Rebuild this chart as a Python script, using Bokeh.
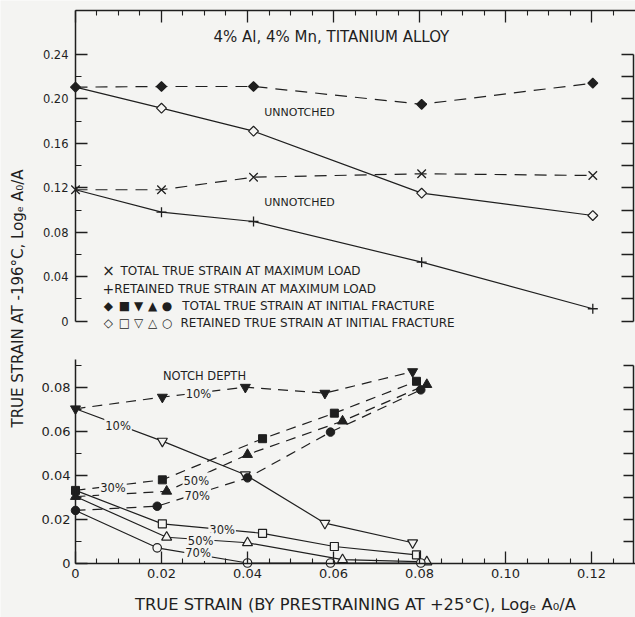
import math
from bokeh.plotting import figure
from bokeh.models import Range1d, LinearAxis, FixedTicker, CustomJSTickFormatter, Label
from bokeh.embed import file_html
from bokeh.resources import INLINE

# ---------------- data ----------------
# upper panel: unnotched specimens
x_top = [0.0, 0.0200, 0.0414, 0.0805, 0.1203]
total_fracture_unnotched = [0.2106, 0.2112, 0.2112, 0.1952, 0.2142]
retained_fracture_unnotched = [0.2106, 0.1917, 0.1710, 0.1152, 0.0951]
total_max_load = [0.1183, 0.1183, 0.1296, 0.1327, 0.1311]
retained_max_load = [0.1183, 0.0981, 0.0897, 0.0531, 0.0112]

# lower panel: notched specimens, by notch depth
x_10 = [0.0, 0.0202, 0.0395, 0.0580, 0.0784]
total_10 = [0.0701, 0.0754, 0.0799, 0.0772, 0.0870]
retained_10 = [0.0701, 0.0554, 0.0401, 0.0181, 0.0092]
x_30 = [0.0, 0.0202, 0.0435, 0.0602, 0.0793]
total_30 = [0.0330, 0.0378, 0.0565, 0.0681, 0.0826]
retained_30 = [0.0330, 0.0178, 0.0135, 0.0075, 0.0037]
x_50 = [0.0, 0.0212, 0.0400, 0.0621, 0.0817]
total_50 = [0.0302, 0.0326, 0.0493, 0.0645, 0.0811]
retained_50 = [0.0302, 0.0117, 0.0092, 0.0015, 0.0005]
x_70 = [0.0, 0.0190, 0.0400, 0.0593, 0.0803]
total_70 = [0.0239, 0.0258, 0.0387, 0.0595, 0.0787]
retained_70 = [0.0239, 0.0069, 0.0, 0.0, 0.0]

x_ticks = [0, 0.02, 0.04, 0.06, 0.08, 0.10, 0.12]
top_y_ticks = [0, 0.04, 0.08, 0.12, 0.16, 0.20, 0.24]
low_y_ticks = [0, 0.02, 0.04, 0.06, 0.08]

title_text = "4% Al, 4% Mn, TITANIUM ALLOY"
x_title = "TRUE STRAIN (BY PRESTRAINING AT +25\u00b0C), Log\u2091 A\u2080/A"
y_title = "TRUE STRAIN AT -196\u00b0C, Log\u2091 A\u2080/A"
legend_lines = [
    ("\u00d7", "TOTAL TRUE STRAIN AT MAXIMUM LOAD"),
    ("+", "RETAINED TRUE STRAIN AT MAXIMUM LOAD"),
    ("\u25c6\u25a0\u25bc\u25b2\u25cf", "TOTAL TRUE STRAIN AT INITIAL FRACTURE"),
    ("\u25c7\u25a1\u25bd\u25b3\u25cb", "RETAINED TRUE STRAIN AT INITIAL FRACTURE"),
]

# ---------------- style ----------------
bg = "#f4f4f2"
ink = "#1f1f1f"
font = "DejaVu Sans"

p = figure(width=635, height=617, output_backend="svg", toolbar_location=None,
           x_range=Range1d(-0.01744, 0.13023),
           y_range=Range1d(-0.26664, 0.28859),
           x_axis_type=None, y_axis_type=None, min_border=0)
p.extra_y_ranges = {"low": Range1d(-0.02477, 0.25568)}
p.outline_line_color = None
p.background_fill_color = bg
p.border_fill_color = bg

num_fmt = CustomJSTickFormatter(code="return tick == 0 ? '0' : tick.toFixed(2);")
blank_fmt = CustomJSTickFormatter(code="return '';")

x_minor = [round(i * 0.005, 3) for i in range(1, 26) if i % 4]


def style_axis(ax, major_in, minor_in, label_size="12px", standoff=6):
    ax.axis_line_color = ink
    ax.axis_line_width = 1.5
    ax.major_tick_line_color = ink
    ax.major_tick_line_width = 1.3
    ax.minor_tick_line_color = ink
    ax.minor_tick_line_width = 1.1
    ax.major_tick_in = major_in
    ax.major_tick_out = 0
    ax.minor_tick_in = minor_in
    ax.minor_tick_out = 0
    ax.major_label_text_font = font
    ax.major_label_text_font_size = label_size
    ax.major_label_text_color = ink
    ax.major_label_standoff = standoff


# upper panel axes
ax = LinearAxis(fixed_location=0, bounds=(0, 0.28), formatter=num_fmt,
                ticker=FixedTicker(ticks=top_y_ticks, minor_ticks=[0.02, 0.06, 0.10, 0.14, 0.18, 0.22]))
style_axis(ax, 12, 6, "11.5px", 7)
p.add_layout(ax, "left")

ax = LinearAxis(fixed_location=0.28, bounds=(0, 0.1302), formatter=blank_fmt,
                ticker=FixedTicker(ticks=x_ticks, minor_ticks=x_minor))
style_axis(ax, 12, 5)
p.add_layout(ax, "above")

ax = LinearAxis(fixed_location=0.1298, bounds=(0, 0.24), formatter=blank_fmt,
                ticker=FixedTicker(ticks=[0, 0.02, 0.04, 0.06, 0.08, 0.10, 0.12, 0.14,
                                          0.16, 0.18, 0.20, 0.22, 0.24]))
style_axis(ax, 12, 0)
p.add_layout(ax, "right")

# lower panel axes
ax = LinearAxis(y_range_name="low", fixed_location=0, bounds=(0, 0.0926), formatter=num_fmt,
                ticker=FixedTicker(ticks=low_y_ticks, minor_ticks=[0.01, 0.03, 0.05, 0.07, 0.09]))
style_axis(ax, 12, 6, "13px", 5)
p.add_layout(ax, "left")

ax = LinearAxis(y_range_name="low", fixed_location=0, bounds=(0, 0.1302), formatter=num_fmt,
                ticker=FixedTicker(ticks=x_ticks, minor_ticks=x_minor),
                axis_label=x_title)
style_axis(ax, 12, 5, "13px", 6)
ax.axis_label_text_font = font
ax.axis_label_text_font_size = "16.3px"
ax.axis_label_text_font_style = "normal"
ax.axis_label_text_color = ink
ax.axis_label_standoff = 13
p.add_layout(ax, "below")

ax = LinearAxis(y_range_name="low", fixed_location=0.1298, bounds=(0, 0.09), formatter=blank_fmt,
                ticker=FixedTicker(ticks=[0.01, 0.02, 0.03, 0.04, 0.05, 0.06, 0.07, 0.08, 0.09]))
style_axis(ax, 10, 0)
p.add_layout(ax, "right")

# ---------------- lines ----------------
LW = 1.2
p.line(x_top, total_fracture_unnotched, line_color=ink, line_width=LW, line_dash="12 8")
p.line(x_top, retained_fracture_unnotched, line_color=ink, line_width=LW)
p.line(x_top, total_max_load, line_color=ink, line_width=LW, line_dash="12 8")
p.line(x_top, retained_max_load, line_color=ink, line_width=LW)

low_series = [
    (x_10, total_10, retained_10, "inverted_triangle", 10),
    (x_30, total_30, retained_30, "square", 8),
    (x_50, total_50, retained_50, "triangle", 10),
    (x_70, total_70, retained_70, "circle", 8.5),
]
for xs, tot, ret, mk, sz in low_series:
    p.line(xs, tot, line_color=ink, line_width=LW, line_dash="10 7", y_range_name="low")
    p.line(xs, ret, line_color=ink, line_width=LW, y_range_name="low")

# ---------------- markers ----------------
# retained values coincide with total values at zero prestrain: only the total marker is shown there
p.scatter(x_top[1:], retained_fracture_unnotched[1:], marker="square", angle=math.pi / 4, size=7,
          fill_color=bg, line_color=ink, line_width=1.2)
p.scatter(x_top, total_fracture_unnotched, marker="square", angle=math.pi / 4, size=7,
          fill_color=ink, line_color=ink, line_width=1.2)
p.scatter(x_top, total_max_load, marker="x", size=12, line_color=ink, line_width=1.3)
p.scatter(x_top[1:], retained_max_load[1:], marker="cross", size=10, line_color=ink, line_width=1.3)

for xs, tot, ret, mk, sz in low_series:
    p.scatter(xs[1:], ret[1:], marker=mk, size=sz, fill_color=bg, line_color=ink,
              line_width=1.2, y_range_name="low")
    p.scatter(xs, tot, marker=mk, size=sz, fill_color=ink, line_color=ink,
              line_width=1.0, y_range_name="low")


# ---------------- texts ----------------
def label(x, y, text, size, rng="default", align="center", gap=False, angle=0.0):
    kw = dict(x=x, y=y, text=text, text_font=font, text_font_size=size, text_color=ink,
              text_align=align, text_baseline="middle", angle=angle, y_range_name=rng)
    if gap:
        kw.update(background_fill_color=bg, padding=1)
    p.add_layout(Label(**kw))


label(0.0595, 0.2553, title_text, "15px")
label(0.0521, 0.1874, "UNNOTCHED", "11px")
label(0.0521, 0.1071, "UNNOTCHED", "11px")

legend_y = [0.0450, 0.0292, 0.0141, -0.0018]
sym_x = [0.00767, 0.01140, 0.01465, 0.01791, 0.02128]
sym_size = ["15px", "14px", "12px", "12px"]
text_x = [0.01047, 0.00900, 0.02481, 0.02442]
for (syms, txt), ly, tx, ss in zip(legend_lines, legend_y, text_x, sym_size):
    for s, sx in zip(syms, sym_x):
        label(sx, ly, s, ss)
    label(tx, ly, txt, "12px", align="left")

label(0.0300, 0.0848, "NOTCH DEPTH", "11.5px", "low")
label(0.0286, 0.0769, "10%", "11.5px", "low", gap=True)
label(0.0099, 0.0625, "10%", "11.5px", "low", gap=True)
label(0.0087, 0.0340, "30%", "11.5px", "low", gap=True)
label(0.0281, 0.0375, "50%", "11.5px", "low", gap=True)
label(0.0283, 0.0304, "70%", "11.5px", "low", gap=True)
label(0.0341, 0.0152, "30%", "11.5px", "low", gap=True)
label(0.0291, 0.0102, "50%", "11.5px", "low", gap=True)
label(0.0285, 0.0046, "70%", "11.5px", "low", gap=True)

label(-0.01326, 0.0204, y_title, "15px", angle=math.pi / 2)

open("out.html", "w").write(file_html(p, INLINE))
